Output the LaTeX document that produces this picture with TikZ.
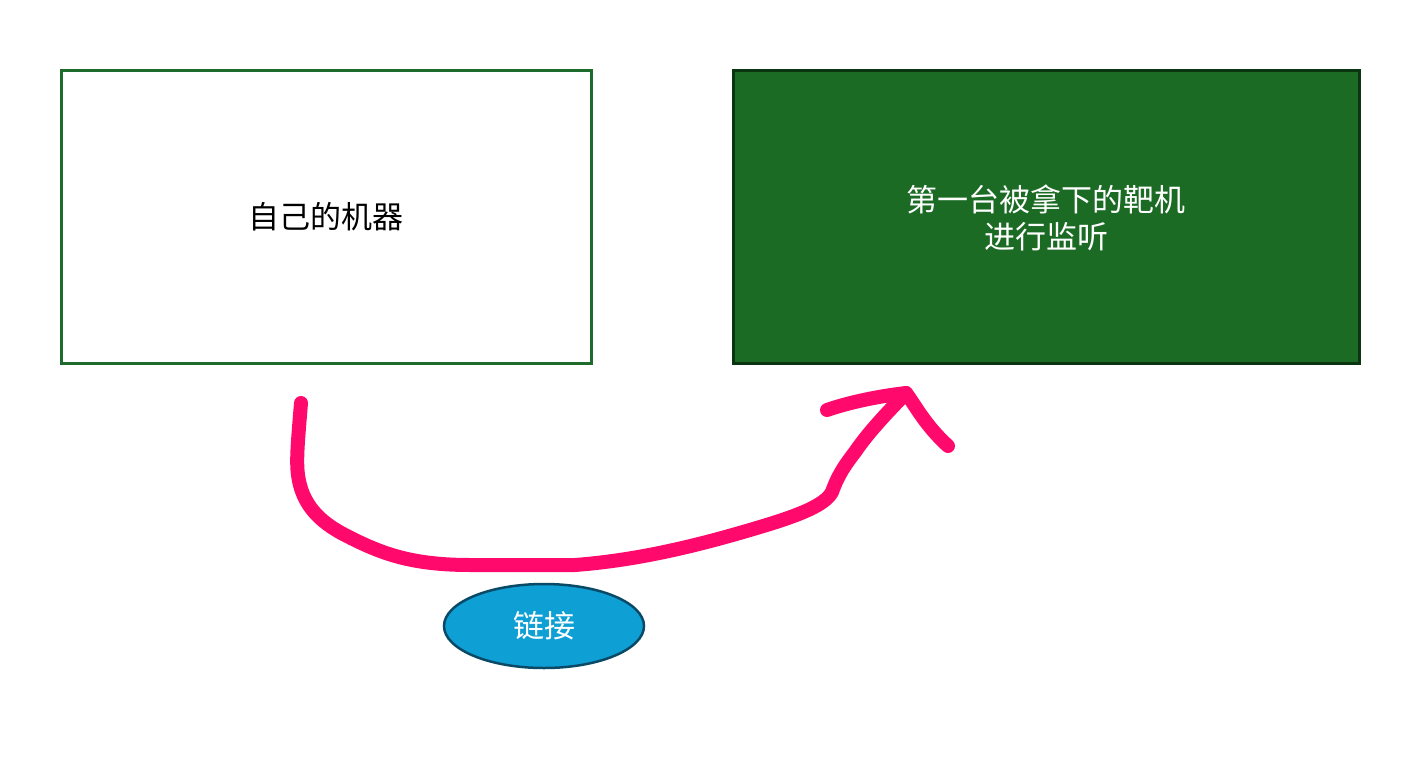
\documentclass[tikz,border=0pt]{standalone}
\usepackage{fontspec}
\newfontfamily\cjk{Noto Sans CJK SC}
\usetikzlibrary{shapes.geometric}
\definecolor{boxgreen}{HTML}{1B6B25}
\definecolor{boxedge}{HTML}{1E6B2E}
\definecolor{darkedge}{HTML}{0A3510}
\definecolor{pinkline}{HTML}{FF0A6C}
\definecolor{ellfill}{HTML}{0E9FD4}
\definecolor{elledge}{HTML}{0B4A66}
\tikzset{
  txt/.style={font=\cjk\fontsize{31}{37}\selectfont, align=center},
  whitebox/.style={draw=boxedge, line width=3pt, fill=white},
  greenbox/.style={draw=darkedge, line width=3pt, fill=boxgreen},
  stroke/.style={draw=pinkline, line width=14pt, line cap=round, line join=round},
}
\begin{document}
\begin{tikzpicture}[x=1pt,y=-1pt]
\useasboundingbox[fill=white] (0,0) rectangle (1424,771);
\draw[whitebox] (61,70) rectangle (591,363);
\node[txt] (own) at (326,217) {自己的机器};
\draw[greenbox] (733,70) rectangle (1359,363);
\node[txt, text=white] (target) at (1046,218) {第一台被拿下的靶机\\进行监听};
\node[ellipse, draw=elledge, line width=2.5pt, fill=ellfill, minimum width=200pt, minimum height=84pt, txt, text=white] (link) at (544,626) {链接};
\coordinate (s) at (301,403);
\coordinate (tip) at (906,393);
\coordinate (larm) at (827,410);
\coordinate (rarm) at (948,446);
\draw[stroke] (s) .. controls (298,440) and (296,460) .. (298,475)
  .. controls (302,505) and (320,522) .. (345,535)
  .. controls (380,553) and (410,565) .. (470,565)
  -- (575,565)
  .. controls (640,560) and (700,545) .. (760,527)
  .. controls (800,515) and (825,505) .. (832,492)
  .. controls (838,475) and (845,465) .. (855,452)
  .. controls (870,430) and (890,410) .. (tip);
\draw[stroke] (larm) .. controls (850,402) and (880,396) .. (tip)
  .. controls (915,405) and (925,425) .. (rarm);
\end{tikzpicture}
\end{document}
